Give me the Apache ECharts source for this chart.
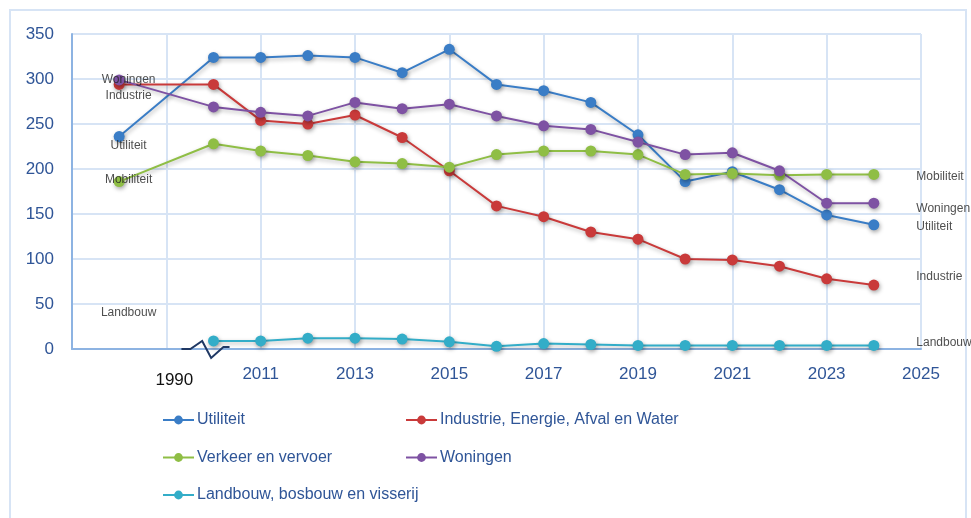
<!DOCTYPE html>
<html>
<head>
<meta charset="utf-8">
<script src="https://cdn.jsdelivr.net/npm/echarts@6/dist/echarts.min.js"></script>
<style>html,body{margin:0;padding:0;background:#fff}#c{width:971px;height:518px}</style>
</head>
<body>
<div id="c"></div>
<script>
// x positions: 2008 stands for 1990 (axis break)
var years = [2008, 2010, 2011, 2012, 2013, 2014, 2015, 2016, 2017, 2018, 2019, 2020, 2021, 2022, 2023, 2024];
var utiliteit = [236, 324, 324, 326, 324, 307, 333, 294, 287, 274, 238, 186, 197, 177, 149, 138];
var industrie = [294, 294, 254, 250, 260, 235, 198, 159, 147, 130, 122, 100, 99, 92, 78, 71];
var verkeer = [186, 228, 220, 215, 208, 206, 202, 216, 220, 220, 216, 194, 195, 193, 194, 194];
var woningen = [299, 269, 263, 259, 274, 267, 272, 259, 248, 244, 230, 216, 218, 198, 162, 162];
var landbouw = [null, 9, 9, 12, 12, 11, 8, 3, 6, 5, 4, 4, 4, 4, 4, 4];
var seriesNames = ['Utiliteit', 'Industrie, Energie, Afval en Water', 'Verkeer en vervoer', 'Woningen', 'Landbouw, bosbouw en visserij'];
var annotLeft = [['Woningen', 2008.2, 299], ['Industrie', 2008.2, 281], ['Utiliteit', 2008.2, 225.6], ['Mobiliteit', 2008.2, 188], ['Landbouw', 2008.2, 40]];
var annotRight = [['Mobiliteit', 2024.9, 192], ['Woningen', 2024.9, 155.6], ['Utiliteit', 2024.9, 135.6], ['Industrie', 2024.9, 80], ['Landbouw', 2024.9, 6.7]];
var breakPts = [[2009.32, 0], [2009.51, 0], [2009.76, 8.9], [2009.95, -10], [2010.21, 2.2], [2010.34, 2.2]];

var colors = ['#3a7dc6', '#c93a3a', '#8fbe45', '#7e52a3', '#33adc8'];
var chart = echarts.init(document.getElementById('c'));
function pairs(vals) { return years.map(function (y, i) { return [y, vals[i]]; }); }
function lineSeries(name, vals, color) {
  return {
    name: name, type: 'line', data: pairs(vals), color: color,
    symbol: 'circle', symbolSize: 11, connectNulls: false,
    lineStyle: { width: 2, color: color, shadowColor: 'rgba(0,0,0,0.3)', shadowBlur: 4, shadowOffsetX: 1, shadowOffsetY: 2 },
    itemStyle: { color: color, shadowColor: 'rgba(0,0,0,0.35)', shadowBlur: 4, shadowOffsetX: 1, shadowOffsetY: 2 },
    z: 3
  };
}
var legendText = { color: '#2f5597', fontFamily: 'Liberation Sans, sans-serif', fontSize: 16, padding: [0, 0, 0, -2] };
var option = {
  animation: false,
  grid: { left: 72, top: 34, right: 50, bottom: 169 },
  xAxis: {
    type: 'value', min: 2007, max: 2025, interval: 2,
    axisLine: { show: true, lineStyle: { color: '#8db3e2', width: 2 } },
    axisTick: { show: false },
    splitLine: { show: true, lineStyle: { color: '#d7e4f5', width: 2 } },
    axisLabel: {
      margin: 17, color: '#2f5597', fontSize: 17, fontFamily: 'Liberation Sans, sans-serif',
      formatter: function (v) { if (v === 2007) return ''; if (v === 2009) return '{b|1990}'; return String(v); },
      rich: { b: { color: '#111', fontSize: 17, fontFamily: 'Liberation Sans, sans-serif', padding: [6, 0, 0, 16] } }
    }
  },
  yAxis: {
    type: 'value', min: 0, max: 350, interval: 50,
    axisLine: { show: true, lineStyle: { color: '#8db3e2', width: 2 } },
    axisTick: { show: false },
    splitLine: { show: true, lineStyle: { color: '#d7e4f5', width: 2 } },
    axisLabel: { margin: 18, color: '#2f5597', fontSize: 17, fontFamily: 'Liberation Sans, sans-serif' }
  },
  legend: [
    { left: 157, top: 407, orient: 'vertical', itemGap: 21.5, itemWidth: 31, itemHeight: 11, data: [seriesNames[0], seriesNames[2], seriesNames[4]], textStyle: legendText },
    { left: 400, top: 407, orient: 'vertical', itemGap: 21.5, itemWidth: 31, itemHeight: 11, data: [seriesNames[1], seriesNames[3]], textStyle: legendText }
  ],
  series: [
    lineSeries(seriesNames[0], utiliteit, colors[0]),
    lineSeries(seriesNames[1], industrie, colors[1]),
    lineSeries(seriesNames[2], verkeer, colors[2]),
    lineSeries(seriesNames[3], woningen, colors[3]),
    lineSeries(seriesNames[4], landbouw, colors[4]),
    {
      name: 'annotLeft', type: 'scatter', symbolSize: 0, clip: false, silent: true, z: 5,
      data: annotLeft.map(function (a) { return { name: a[0], value: [a[1], a[2]] }; }),
      label: { show: true, position: 'inside', formatter: '{b}', color: '#222', fontSize: 12, fontFamily: 'Liberation Sans, sans-serif' }
    },
    {
      name: 'annotRight', type: 'scatter', symbolSize: 0, clip: false, silent: true, z: 5,
      data: annotRight.map(function (a) { return { name: a[0], value: [a[1], a[2]] }; }),
      label: { show: true, position: 'inside', align: 'left', formatter: '{b}', color: '#222', fontSize: 12, fontFamily: 'Liberation Sans, sans-serif' }
    }
  ]
};
chart.setOption(option);
var pts = breakPts.map(function (p) { return chart.convertToPixel({ gridIndex: 0 }, p); });
chart.setOption({
  graphic: [
    { type: 'rect', shape: { x: 10, y: 10, width: 956, height: 520 }, style: { fill: 'none', stroke: '#d7e4f5', lineWidth: 2 }, silent: true, z: 0 },
    { type: 'polyline', shape: { points: pts }, style: { fill: 'none', stroke: '#1f3864', lineWidth: 2 }, silent: true, z: 10 }
  ]
});
</script>
</body>
</html>
